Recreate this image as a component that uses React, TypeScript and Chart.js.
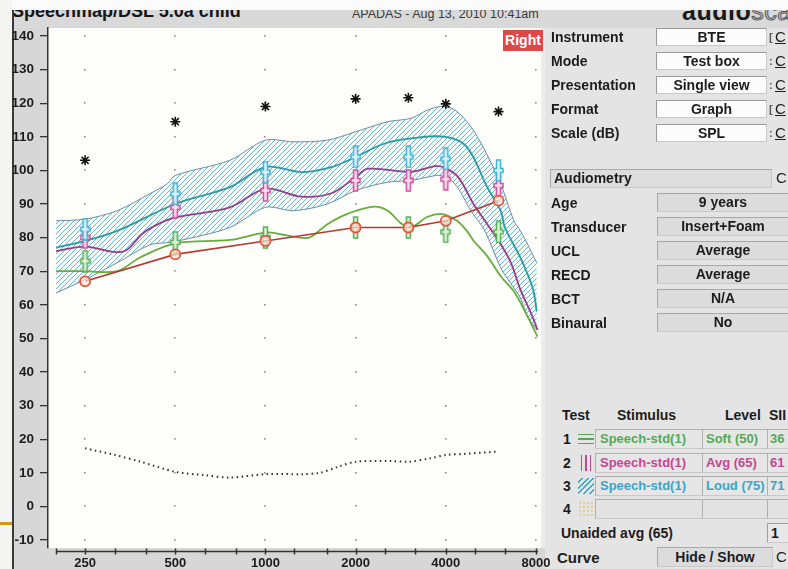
import React, { useEffect, useRef } from 'react';
import { Chart, registerables } from 'chart.js';
Chart.register(...registerables);

// ---------- data ----------
const FREQ_TICKS = [250, 500, 1000, 2000, 4000, 8000];
const DB_TICKS = [-10, 0, 10, 20, 30, 40, 50, 60, 70, 80, 90, 100, 110, 120, 130, 140];
const THIRD_OCT = [200, 250, 315, 400, 500, 630, 800, 1000, 1250, 1600, 2000, 2500, 3150, 4000, 5000, 6300, 8000];

const bandFreq = [200, 250, 320, 410, 470, 500, 760, 1000, 1240, 1610, 2000, 2560, 3060, 3480, 3850, 4290, 4850, 5400, 6100, 6750, 7100, 7500, 8050];
const bandUpper = [85, 85.5, 88, 93, 96, 98.5, 103, 109, 108.5, 109, 111.5, 114.5, 115.5, 118, 119, 118, 113, 106, 96, 85, 82, 78, 72.5];
const bandLower = [63.5, 67.5, 72.5, 77.8, 78.5, 78.8, 83, 89, 88, 90, 94, 96.5, 97, 98, 98.5, 96, 88, 82, 71, 65, 62, 56.5, 52.5];

const loudFreq = [200, 250, 320, 500, 760, 1000, 1320, 1660, 2000, 2500, 3060, 4000, 4700, 5500, 6100, 6300, 7100, 7800, 8050];
const loudValues = [77, 79, 82, 90, 95, 101, 99.5, 101, 104, 108, 109.5, 110, 107, 95, 88, 83, 74, 65, 58];

const avgFreq = [200, 250, 335, 390, 445, 500, 760, 1000, 1320, 1660, 2000, 2200, 3060, 3700, 4000, 4400, 4950, 5500, 6100, 6600, 7100, 7700, 8100];
const avgValues = [76, 77.3, 75.8, 81.3, 84.3, 86, 89, 94.5, 92.2, 93.2, 98, 100.5, 99.6, 101.3, 100.6, 98, 90, 84, 78, 72.5, 64.5, 57.5, 52.5];

const softFreq = [200, 250, 320, 380, 500, 760, 1000, 1125, 1240, 1400, 1610, 1870, 2300, 2560, 2830, 3060, 3480, 3900, 4360, 4700, 4960, 5500, 6100, 6750, 7500, 8100];
const softValues = [70, 70, 70, 74, 78.3, 79.3, 81.5, 81, 80.3, 80, 84, 87, 89.2, 88, 84.3, 83, 86.2, 87, 85, 82, 79, 74.5, 68.5, 64, 56.5, 50.5];

const targetFreq = [250, 500, 1000, 2000, 3000, 4000, 6000];
const loudTargets = [82.5, 93, 99.5, 104, 104, 103.4, 100];
const avgTargets = [80, 89, 94, 97, 97, 97.4, 95.5];
const softTargets = [73, 78.6, 80, 83, 83, 81.7, 81.7];
const thresholdValues = [67, 75, 79, 83, 83, 85, 91];
const uclValues = [103, 114.5, 119, 121.3, 121.6, 119.8, 117.5];

const noiseFreq = [250, 315, 383, 500, 626, 760, 1000, 1330, 1520, 1750, 2000, 2630, 3010, 3550, 4000, 4560, 5900];
const noiseValues = [17.3, 15.3, 13.3, 10.3, 9.3, 8.6, 9.6, 9.6, 10, 11.8, 13.3, 13.5, 13.3, 14.3, 15.3, 15.6, 16.3];

const setupLabels = ['Instrument', 'Mode', 'Presentation', 'Format', 'Scale (dB)'];
const setupValues = ['BTE', 'Test box', 'Single view', 'Graph', 'SPL'];
const setupMarks = ['[', ':', ':', '[', ':'];
const audioLabels = ['Age', 'Transducer', 'UCL', 'RECD', 'BCT', 'Binaural'];
const audioValues = ['9 years', 'Insert+Foam', 'Average', 'Average', 'N/A', 'No'];
const testNums = ['1', '2', '3'];
const testStimuli = ['Speech-std(1)', 'Speech-std(1)', 'Speech-std(1)'];
const testLevels = ['Soft (50)', 'Avg (65)', 'Loud (75)'];
const testSII = ['36', '61', '71'];
const testColors = ['#55a855', '#c4468f', '#3aa5c8'];

const pts = (xs: number[], ys: number[]) => xs.map((x, i) => ({ x, y: ys[i] }));
const FONT = '"Liberation Sans", Arial, sans-serif';

function targetMarker(color: string, fill: string) {
  const c = document.createElement('canvas');
  c.width = 11; c.height = 23;
  const g = c.getContext('2d')!;
  g.fillStyle = fill; g.strokeStyle = color; g.lineWidth = 1.5;
  const p = new Path2D();
  p.moveTo(3.5, 1); p.lineTo(7.5, 1); p.lineTo(7.5, 9.5); p.lineTo(10, 9.5); p.lineTo(10, 13.5);
  p.lineTo(7.5, 13.5); p.lineTo(7.5, 22); p.lineTo(3.5, 22); p.lineTo(3.5, 13.5); p.lineTo(1, 13.5);
  p.lineTo(1, 9.5); p.lineTo(3.5, 9.5); p.closePath();
  g.fill(p); g.stroke(p);
  return c;
}

const decor = {
  id: 'decor',
  beforeDraw(chart: any) {
    const { ctx, chartArea: a, scales } = chart;
    const x = scales.x, y = scales.y;
    ctx.save();
    ctx.fillStyle = '#fefefb';
    ctx.fillRect(a.left, a.top, a.right - a.left, a.bottom - a.top);
    ctx.fillStyle = '#8c8c8c';
    for (const f of FREQ_TICKS) for (const d of DB_TICKS) {
      ctx.fillRect(Math.round(x.getPixelForValue(f)) - 1, Math.round(y.getPixelForValue(d)) - 1, 1.6, 1.6);
    }
    const ry = a.bottom + 3.5;
    ctx.strokeStyle = '#333'; ctx.lineWidth = 1.5;
    ctx.beginPath();
    ctx.moveTo(x.getPixelForValue(200), ry); ctx.lineTo(x.getPixelForValue(8000) + 2, ry);
    for (const f of THIRD_OCT) {
      const px = Math.round(x.getPixelForValue(f)) + 0.5;
      ctx.moveTo(px, ry - 3); ctx.lineTo(px, ry + 3);
    }
    ctx.stroke();
    ctx.restore();
  },
};

function T(props: { x: number; cy: number; h?: number; children: any; style?: any }) {
  const h = props.h ?? 18;
  return (
    <div style={{ position: 'absolute', left: props.x, top: props.cy - h / 2, height: h, lineHeight: h + 'px', whiteSpace: 'nowrap', fontFamily: FONT, fontWeight: 'bold', fontSize: 14, color: '#1c1c1c', ...props.style }}>
      {props.children}
    </div>
  );
}

function Box(props: { x: number; cy: number; w: number; h: number; bg: string; children?: any; color?: string; align?: string; pad?: number; border?: string; size?: number }) {
  return (
    <div style={{ position: 'absolute', left: props.x, top: props.cy - props.h / 2, width: props.w, height: props.h, boxSizing: 'border-box', background: props.bg, border: props.border ?? '1px solid #9a9a9a', borderRightColor: '#c8c8c8', borderBottomColor: '#c8c8c8', lineHeight: (props.h - 2) + 'px', textAlign: (props.align ?? 'center') as any, paddingLeft: props.pad ?? 0, fontFamily: FONT, fontWeight: 'bold', fontSize: props.size ?? 14, color: props.color ?? '#1c1c1c', whiteSpace: 'nowrap', overflow: 'hidden' }}>
      {props.children}
    </div>
  );
}

export default function App() {
  const ref = useRef<HTMLCanvasElement>(null);
  useEffect(() => {
    const canvas = ref.current!;
    const ctx = canvas.getContext('2d')!;
    const tile = document.createElement('canvas');
    tile.width = 5; tile.height = 5;
    const t = tile.getContext('2d')!;
    t.fillStyle = '#f6fbfc'; t.fillRect(0, 0, 5, 5);
    t.strokeStyle = '#6db5ca'; t.lineWidth = 1;
    t.beginPath();
    t.moveTo(-1, 6); t.lineTo(6, -1);
    t.moveTo(-1, 1); t.lineTo(1, -1);
    t.moveTo(4, 6); t.lineTo(6, 4);
    t.stroke();
    const hatch = ctx.createPattern(tile, 'repeat');

    const lineDs = (data: any, color: string, order: number, extra: any = {}) => ({
      type: 'line', data, borderColor: color, borderWidth: 1.8, pointRadius: 0, tension: 0.35, fill: false, order, ...extra,
    });
    const markDs = (data: any, style: any, order: number) => ({
      type: 'line', data, showLine: false, pointStyle: style, pointRadius: 10, order,
    });

    const chart = new Chart(canvas, {
      type: 'line',
      data: {
        datasets: [
          lineDs(pts(bandFreq, bandUpper), '#6a8ea8', 20, { borderWidth: 1, fill: '+1', backgroundColor: hatch, tension: 0.3 }),
          lineDs(pts(bandFreq, bandLower), '#6a8ea8', 19, { borderWidth: 1, tension: 0.3 }),
          lineDs(pts(noiseFreq, noiseValues), '#333', 10, { borderWidth: 2, borderDash: [1.5, 3.5], tension: 0.3 }),
          lineDs(pts(softFreq, softValues), '#66ad3c', 9),
          lineDs(pts(avgFreq, avgValues), '#953d8c', 8),
          lineDs(pts(loudFreq, loudValues), '#2a9aa4', 7),
          markDs(pts(targetFreq, softTargets), targetMarker('#55b055', '#dff2d8'), 4),
          markDs(pts(targetFreq, avgTargets), targetMarker('#d24e9e', '#f8e0ee'), 3),
          markDs(pts(targetFreq, loudTargets), targetMarker('#3fb3d6', '#dff2f8'), 2),
          {
            type: 'line', data: pts(targetFreq, thresholdValues), borderColor: '#b53a30', borderWidth: 1.6, tension: 0,
            pointStyle: 'circle', pointRadius: 5, pointBorderColor: '#e2573a', pointBorderWidth: 1.8,
            pointBackgroundColor: 'rgba(255,228,215,0.7)', order: 1, fill: false,
          },
          { type: 'line', data: pts(targetFreq, uclValues), showLine: false, pointStyle: 'star', pointRadius: 5, pointBorderColor: '#111', pointBorderWidth: 1.6, order: 0 },
        ] as any,
      },
      options: {
        animation: false,
        responsive: false,
        devicePixelRatio: 1,
        events: [],
        layout: { padding: { top: 28, right: 5, left: 0, bottom: 0 } },
        plugins: { legend: { display: false }, tooltip: { enabled: false } },
        scales: {
          x: {
            type: 'logarithmic', min: 188, max: 8315,
            afterBuildTicks: (s: any) => { s.ticks = FREQ_TICKS.map((v) => ({ value: v })); },
            afterFit: (s: any) => { s.height = 21; s.paddingLeft = 0; s.paddingRight = 0; },
            grid: { display: false, drawTicks: false },
            border: { display: false },
            ticks: { callback: (v: any) => String(v), color: '#1c1c1c', padding: 8, maxRotation: 0, autoSkip: false, font: { family: FONT, size: 13, weight: 'bold' } },
          },
          y: {
            type: 'linear', min: -12.38, max: 142.38,
            afterBuildTicks: (s: any) => { s.ticks = DB_TICKS.map((v) => ({ value: v })); },
            afterFit: (s: any) => { s.width = 48; s.paddingTop = 0; s.paddingBottom = 0; },
            grid: { drawOnChartArea: false, drawTicks: true, tickLength: 8, color: '#333', lineWidth: 1.3 },
            border: { display: true, color: '#333', width: 1.5 },
            ticks: { color: '#1c1c1c', padding: 6, autoSkip: false, font: { family: FONT, size: 13.5, weight: 'bold' } },
          },
        },
      } as any,
      plugins: [decor],
    });
    return () => chart.destroy();
  }, []);

  const setupY = setupLabels.map((_, i) => 37 + i * 23.9);
  const audioY = audioLabels.map((_, i) => 202.7 + i * 24);
  const testY = [439, 462.5, 486];

  return (
    <div style={{ position: 'fixed', left: 0, top: 0, width: 788, height: 569, overflow: 'hidden', background: '#e4e4e4', fontFamily: FONT }}>
      {/* slide / screen frame */}
      <div style={{ position: 'absolute', left: 0, top: 0, width: 788, height: 10, background: '#fbfbfb' }} />
      <div style={{ position: 'absolute', left: 0, top: 0, width: 12, height: 569, background: '#f4f4f2' }} />
      <div style={{ position: 'absolute', left: 12, top: 10, width: 36, height: 559, background: '#d7d7d7' }} />
      <div style={{ position: 'absolute', left: 12, top: 10, width: 2, height: 559, background: '#3a3a3a' }} />
      <div style={{ position: 'absolute', left: 14, top: 548, width: 531, height: 21, background: '#d7d7d7' }} />
      <div style={{ position: 'absolute', left: 0, top: 522, width: 12, height: 3, background: '#d49a1c' }} />
      <div style={{ position: 'absolute', left: 540, top: 28, width: 5, height: 520, background: '#ececec' }} />

      {/* title bar */}
      <div style={{ position: 'absolute', left: 14, top: 10, width: 774, height: 18, background: '#d9d9d9', overflow: 'hidden' }}>
        <div style={{ position: 'absolute', left: -2, top: -8, lineHeight: '18px', fontSize: 18, fontWeight: 'bold', color: '#151515', whiteSpace: 'nowrap' }}>Speechmap/DSL 5.0a child</div>
        <div style={{ position: 'absolute', left: 338, top: -3, lineHeight: '14px', fontSize: 12.5, color: '#3a3a3a', whiteSpace: 'nowrap' }}>APADAS - Aug 13, 2010 10:41am</div>
        <div style={{ position: 'absolute', left: 668, top: -12, lineHeight: '26px', fontSize: 25, fontWeight: 900, color: '#1a1a1a', whiteSpace: 'nowrap', letterSpacing: 0.5 }}>
          audio<span style={{ color: '#c8c8c8', WebkitTextStroke: '1px #555', fontWeight: 400 }}>scan</span>
        </div>
      </div>

      <canvas ref={ref} width={552} height={569} style={{ position: 'absolute', left: 0, top: 0, width: 552, height: 569 }} />

      <div style={{ position: 'absolute', left: 503, top: 30, width: 40, height: 21, background: '#e0474b', color: '#fff', fontWeight: 'bold', fontSize: 14, lineHeight: '21px', textAlign: 'center' }}>Right</div>

      {/* setup panel */}
      {setupLabels.map((l, i) => (
        <React.Fragment key={l}>
          <T x={551} cy={setupY[i]}>{l}</T>
          <Box x={656} cy={setupY[i]} w={111} h={18} bg="#fcfcfc">{setupValues[i]}</Box>
          <T x={769} cy={setupY[i]} style={{ fontSize: 11, color: '#555' }}>{setupMarks[i]}</T>
          <T x={775} cy={setupY[i]} style={{ fontWeight: 'normal', fontSize: 15, textDecoration: 'underline' }}>C</T>
        </React.Fragment>
      ))}

      <Box x={550} cy={178} w={222} h={19} bg="#dddddd" align="left" pad={3} border="1px solid #aaa">Audiometry</Box>
      <T x={776} cy={178} style={{ fontWeight: 'normal', fontSize: 15 }}>C</T>
      {audioLabels.map((l, i) => (
        <React.Fragment key={l}>
          <T x={551} cy={audioY[i]}>{l}</T>
          <Box x={657} cy={audioY[i]} w={140} h={19} bg="#dcdcdc" border="1px solid #a8a8a8" align="left" pad={0}>
            <div style={{ width: 130, textAlign: 'center' }}>{audioValues[i]}</div>
          </Box>
        </React.Fragment>
      ))}

      {/* test table */}
      <T x={562} cy={415}>Test</T>
      <T x={617} cy={415}>Stimulus</T>
      <T x={725} cy={415}>Level</T>
      <T x={769} cy={415}>SII</T>
      {testNums.map((n, i) => (
        <React.Fragment key={n}>
          <T x={563} cy={testY[i]}>{n}</T>
          <div style={{
            position: 'absolute', left: 578, top: testY[i] - 8, width: 16, height: 16,
            background: i === 0
              ? `repeating-linear-gradient(180deg, transparent 0 3px, ${testColors[0]} 3px 4.5px)`
              : i === 1
                ? `repeating-linear-gradient(90deg, transparent 0 3px, ${testColors[1]} 3px 4.5px)`
                : `repeating-linear-gradient(135deg, transparent 0 2.5px, ${testColors[2]} 2.5px 4px)`,
          }} />
          <Box x={595} cy={testY[i]} w={108} h={20} bg="#e6e6e6" color={testColors[i]} align="left" pad={4} size={13} border="1px solid #b0b0b0">{testStimuli[i]}</Box>
          <Box x={702} cy={testY[i]} w={66} h={20} bg="#e6e6e6" color={testColors[i]} align="left" pad={3} size={13} border="1px solid #b0b0b0">{testLevels[i]}</Box>
          <Box x={767} cy={testY[i]} w={30} h={20} bg="#e6e6e6" color={testColors[i]} align="left" pad={2} size={13} border="1px solid #b0b0b0">{testSII[i]}</Box>
        </React.Fragment>
      ))}
      <T x={563} cy={509}>4</T>
      <div style={{ position: 'absolute', left: 578, top: 501, width: 16, height: 16, background: 'radial-gradient(circle, #e8cf8a 1px, transparent 1.5px) 0 0 / 4px 4px' }} />
      <Box x={595} cy={509} w={108} h={20} bg="#e2e2e2" border="1px solid #b0b0b0" />
      <Box x={702} cy={509} w={66} h={20} bg="#e2e2e2" border="1px solid #b0b0b0" />
      <Box x={767} cy={509} w={30} h={20} bg="#e2e2e2" border="1px solid #b0b0b0" />

      <T x={561} cy={533}>Unaided avg (65)</T>
      <Box x={767} cy={533} w={30} h={20} bg="#e8e8e8" align="left" pad={3} border="1px solid #a0a0a0">1</Box>
      <T x={557} cy={558} style={{ fontSize: 15 }}>Curve</T>
      <Box x={657} cy={557} w={116} h={20} bg="#dcdcdc" border="1px solid #aaa">Hide / Show</Box>
      <T x={776} cy={557} style={{ fontWeight: 'normal', fontSize: 15 }}>C</T>
    </div>
  );
}
